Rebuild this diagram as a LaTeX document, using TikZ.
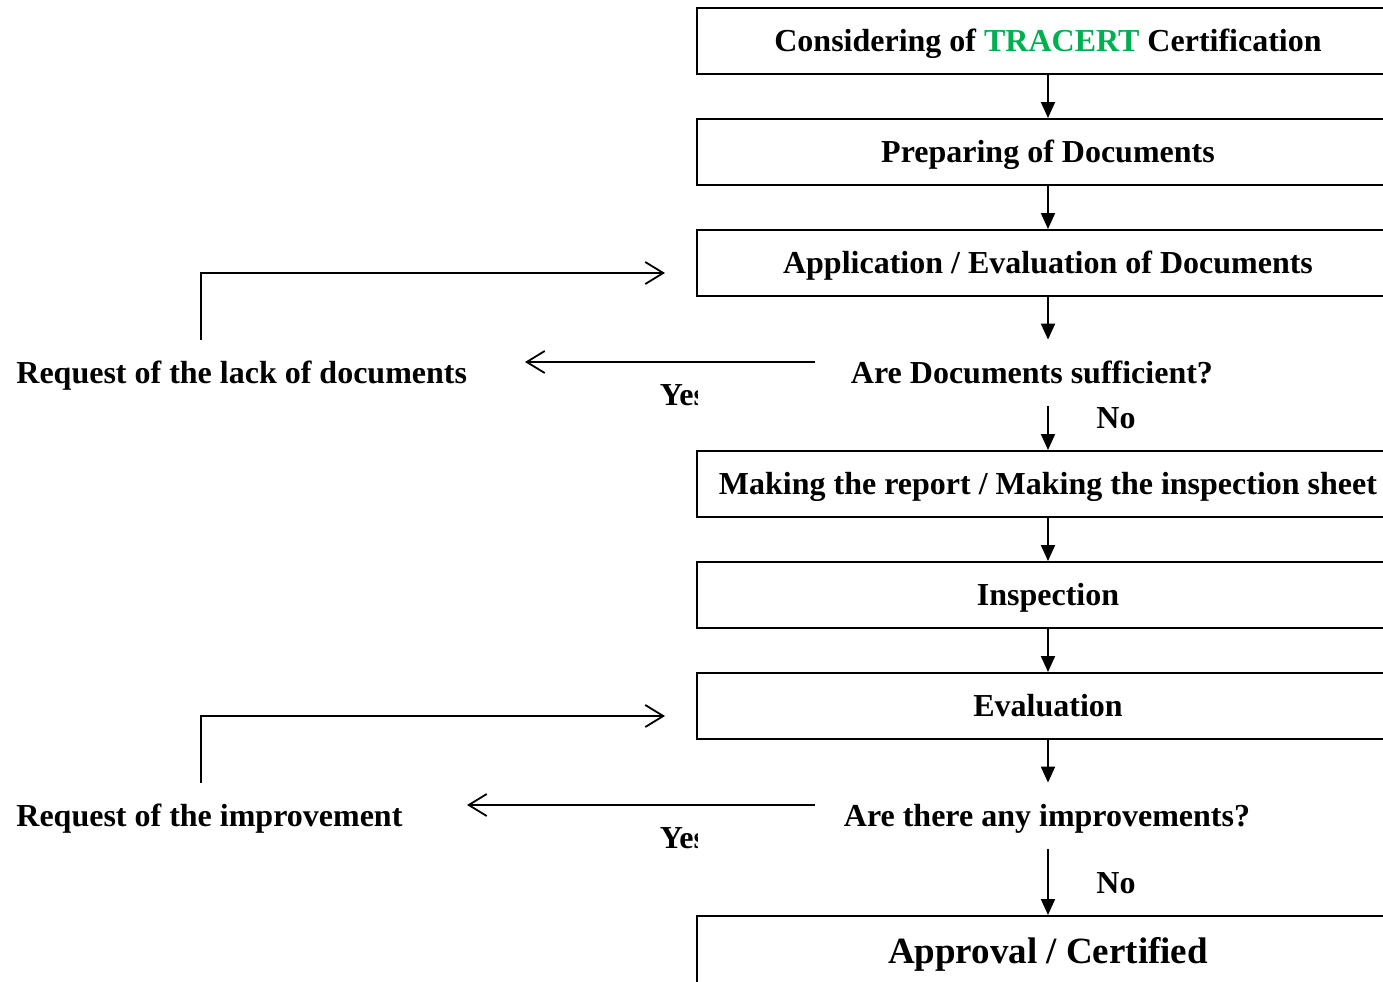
\documentclass[tikz,border=0pt]{standalone}
\usepackage{fontspec}
\setmainfont{Liberation Serif}
\usetikzlibrary{arrows.meta}
\definecolor{tracert}{RGB}{0,176,80}

\tikzset{
	stage/.style={draw, line width=1pt, minimum width=351pt, minimum height=33pt, inner sep=0pt, text height=10.6pt, text depth=0pt, font=\fontsize{16}{19}\selectfont\bfseries},
	query/.style={minimum height=33pt, inner sep=0pt, text height=10.6pt, text depth=0pt, font=\fontsize{16}{19}\selectfont\bfseries},
	note/.style={inner sep=0pt, text height=10.6pt, text depth=0pt, font=\fontsize{16}{19}\selectfont\bfseries},
	flow/.style={-{Triangle[width=7pt,length=8pt]}, line width=1pt},
	back/.style={-{Straight Barb[width=11pt,length=9pt]}, line width=0.9pt},
}

\begin{document}
\begin{tikzpicture}[x=0.5pt, y=-0.5pt]
		%%%%% START %%%%%
		\useasboundingbox (0, 0) rectangle (1383, 981);
		\clip (0, 0) rectangle (1383, 981);
		
		% main column
		\node[stage] (b1) at (1048, 41) {Considering of \textcolor{tracert}{TRACERT} Certification};
		\node[stage] (b2) at (1048, 152) {Preparing of Documents};
		\node[stage] (b3) at (1048, 263) {Application / Evaluation of Documents};
		\node[query] (q1) at (1032, 373) {Are Documents sufficient?};
		\node[stage] (b4) at (1048, 484) {Making the report / Making the inspection sheet};
		\node[stage] (b5) at (1048, 595) {Inspection};
		\node[stage] (b6) at (1048, 706) {Evaluation};
		\node[query] (q2) at (1047, 816) {Are there any improvements?};
		\node[stage, anchor=north, minimum height=35pt, text height=12.3pt, font=\fontsize{18.5}{22}\selectfont\bfseries] (b7) at (1048, 915) {Approval / Certified};
		
		\node[note] (n1) at (1116, 418) {No};
		\node[note] (n2) at (1116, 883) {No};
		
		% side notes
		\node[note, anchor=west] (r1) at (16, 373) {Request of the lack of documents};
		\node[note, anchor=west] (r2) at (16, 816) {Request of the improvement};
		
		\begin{scope}
			\clip (0, 0) rectangle (697, 981);
			\node[note] (y1) at (683, 395) {Yes};
			\node[note] (y2) at (683, 838) {Yes};
		\end{scope}
		
		\draw[flow] (b1) -- (b2);
		\draw[flow] (b2) -- (b3);
		\draw[flow] (b3) -- (b3.south |- q1.north);
		\draw[flow] (q1.south -| b4) -- (b4);
		\draw[flow] (b4) -- (b5);
		\draw[flow] (b5) -- (b6);
		\draw[flow] (b6) -- (b6.south |- q2.north);
		\draw[flow] (q2.south -| b7) -- (b7);
		
		% yes branches
		\coordinate (s1) at (815, 362);
		\coordinate (e1) at (525, 362);
		\coordinate (s2) at (815, 805);
		\coordinate (e2) at (467, 805);
		\draw[back] (s1) -- (e1);
		\draw[back] (s2) -- (e2);
		
		% back to the column
		\coordinate (f1) at (201, 340);
		\coordinate (t1) at (665, 273);
		\coordinate (f2) at (201, 783);
		\coordinate (t2) at (665, 716);
		\draw[back] (f1) |- (t1);
		\draw[back] (f2) |- (t2);
		
		%%%%% END %%%%%
\end{tikzpicture}
\end{document}
